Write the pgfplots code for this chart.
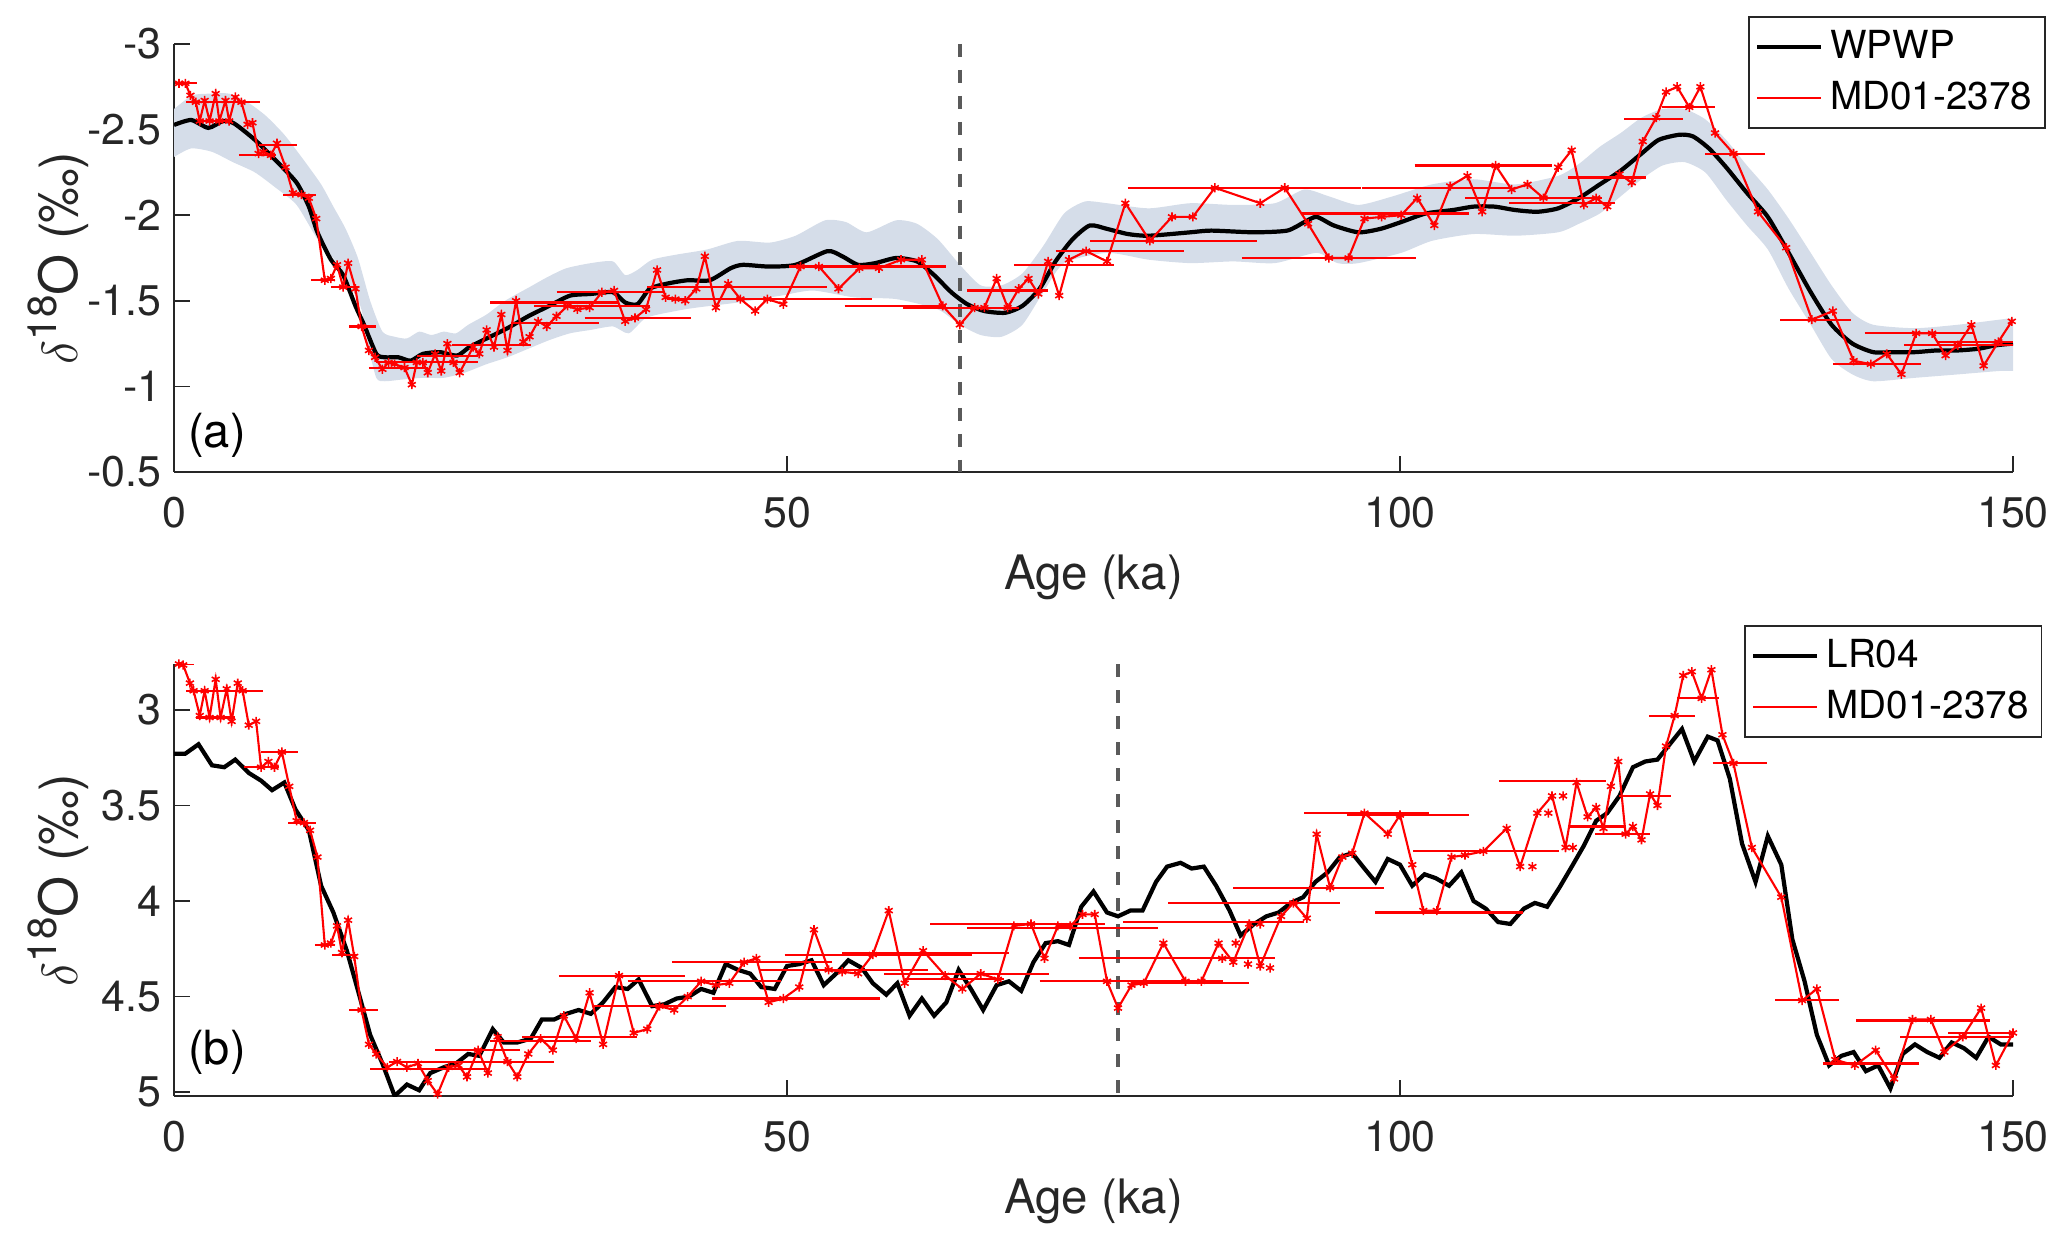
\documentclass[border=0pt]{standalone}
\usepackage{fontspec}
\setmainfont{TeX Gyre Heros}
\usepackage{pgfplots}
\usepackage{pgfplotstable}
\pgfplotsset{compat=1.18}
\usepgfplotslibrary{fillbetween}

\definecolor{bandblue}{RGB}{213,221,233}
\definecolor{axgray}{RGB}{38,38,38}
\definecolor{dashgray}{RGB}{90,90,90}

% WPWP stack (top panel)
\pgfplotstableread{
age d18o
0 -2.527
1.4 -2.556
2.8 -2.51
4.0 -2.55
4.9 -2.536
6.6 -2.44
8.3 -2.32
10.0 -2.19
11.0 -2.05
11.7 -1.90
12.8 -1.74
13.8 -1.65
14.8 -1.47
15.5 -1.36
16.5 -1.19
17.2 -1.17
18.3 -1.17
19.3 -1.15
20.3 -1.19
21.7 -1.20
23.1 -1.18
24.1 -1.23
25.5 -1.28
27.2 -1.34
28.9 -1.41
30.6 -1.47
32.3 -1.53
34.0 -1.54
35.8 -1.55
36.8 -1.49
37.8 -1.48
38.8 -1.57
40.2 -1.60
41.9 -1.62
43.7 -1.62
45.4 -1.69
46.4 -1.71
48.5 -1.70
50.7 -1.71
53.3 -1.79
54.5 -1.76
55.8 -1.71
57.2 -1.72
58.9 -1.75
60.6 -1.73
62.0 -1.65
63.4 -1.55
64.7 -1.48
66.1 -1.44
67.8 -1.43
69.2 -1.47
70.6 -1.57
71.9 -1.73
73.3 -1.86
74.7 -1.94
76.1 -1.92
77.8 -1.89
79.5 -1.88
82.9 -1.90
84.6 -1.91
88.1 -1.90
90.8 -1.91
92.2 -1.96
93.2 -1.99
94.6 -1.94
96.6 -1.90
98.4 -1.92
100.1 -1.96
102.1 -2.01
104.3 -2.03
106.0 -2.05
107.7 -2.05
109.4 -2.03
111.2 -2.02
112.9 -2.04
114.6 -2.10
116.3 -2.18
118.0 -2.26
119.7 -2.36
121.1 -2.44
122.8 -2.47
123.9 -2.46
125.2 -2.39
126.6 -2.28
128.3 -2.13
130.0 -1.99
131.7 -1.78
133.5 -1.55
135.2 -1.36
136.9 -1.25
138.6 -1.20
140.3 -1.20
142.0 -1.20
143.8 -1.21
145.5 -1.21
147.2 -1.22
148.6 -1.24
150 -1.25
}\wpwp

\pgfplotstableread{
age d18o
0 -2.62
1.5 -2.70
3 -2.71
4.5 -2.71
6 -2.66
7.5 -2.58
9 -2.47
10.5 -2.33
12 -2.18
13 -2.05
14 -1.92
15 -1.75
16 -1.50
17 -1.32
18 -1.29
19 -1.28
20 -1.32
21 -1.30
22 -1.32
23 -1.31
24 -1.36
25.5 -1.42
27 -1.50
29 -1.58
30.5 -1.64
32 -1.69
34 -1.72
35.8 -1.73
36.8 -1.65
37.8 -1.68
39 -1.74
41 -1.77
43.5 -1.80
46 -1.85
48.6 -1.84
50.7 -1.88
53.1 -1.97
54.8 -1.96
56.5 -1.90
58.9 -1.97
60.6 -1.95
62.3 -1.86
64.1 -1.71
65.8 -1.59
67.5 -1.59
69.2 -1.66
70.9 -1.82
72.6 -2.01
74.3 -2.08
76.1 -2.07
79.5 -2.04
82.9 -2.07
86.4 -2.06
89.8 -2.07
92.2 -2.15
94.2 -2.11
96.6 -2.06
99.4 -2.11
102.6 -2.18
106.0 -2.21
109.4 -2.18
112.9 -2.23
114.6 -2.30
116.3 -2.40
118.0 -2.48
119.7 -2.57
121.4 -2.62
123.2 -2.62
124.9 -2.56
126.6 -2.44
128.3 -2.29
130.0 -2.15
131.7 -1.98
133.5 -1.78
135.2 -1.59
136.9 -1.43
138.6 -1.36
142.0 -1.34
145.5 -1.36
148.9 -1.39
150 -1.40
}\wpwpup

\pgfplotstableread{
age d18o
0 -2.34
1.4 -2.39
3.1 -2.37
4.8 -2.31
6.6 -2.25
8.3 -2.16
10.0 -2.06
11.7 -1.86
13.4 -1.71
15.2 -1.47
15.8 -1.25
16.5 -1.05
17.2 -1.03
18.6 -1.04
20.3 -1.05
22.0 -1.05
23.7 -1.08
25.5 -1.13
27.2 -1.17
28.9 -1.22
30.6 -1.27
32.3 -1.31
34.0 -1.33
35.8 -1.35
37.1 -1.31
38.5 -1.40
40.9 -1.44
42.6 -1.46
46.0 -1.49
49.5 -1.53
52.1 -1.56
55.5 -1.52
58.9 -1.51
62.3 -1.45
64.1 -1.36
65.8 -1.30
67.5 -1.29
69.2 -1.36
70.9 -1.55
72.6 -1.72
76.1 -1.78
79.5 -1.74
82.9 -1.72
86.4 -1.73
89.8 -1.72
93.2 -1.78
94.9 -1.72
96.6 -1.72
100.1 -1.78
102.6 -1.85
106.0 -1.89
109.4 -1.88
112.9 -1.90
114.6 -1.95
116.3 -2.01
118.0 -2.11
119.7 -2.21
121.4 -2.29
123.2 -2.31
124.9 -2.25
126.6 -2.09
128.3 -1.94
130.0 -1.80
131.7 -1.57
133.5 -1.36
135.2 -1.16
136.9 -1.07
138.6 -1.03
142.0 -1.05
145.5 -1.07
148.9 -1.09
150 -1.09
}\wpwplo

% MD01-2378 on the WPWP age scale (top panel)
\pgfplotstableread{
age d18o
0.41 -2.77
0.93 -2.77
1.34 -2.70
1.78 -2.66
2.1 -2.55
2.5 -2.67
2.9 -2.55
3.4 -2.71
3.7 -2.55
4.2 -2.67
4.5 -2.55
5.0 -2.69
5.5 -2.66
6.0 -2.53
6.4 -2.54
6.9 -2.36
7.3 -2.37
7.9 -2.35
8.4 -2.42
9.1 -2.28
9.7 -2.13
10.4 -2.12
11.0 -2.10
11.6 -1.98
12.3 -1.62
12.8 -1.63
13.3 -1.71
13.8 -1.58
14.2 -1.72
14.8 -1.57
15.3 -1.35
15.9 -1.21
16.4 -1.17
17.0 -1.10
17.5 -1.14
18.0 -1.13
18.8 -1.11
19.4 -1.01
19.8 -1.14
20.3 -1.14
20.7 -1.08
21.3 -1.19
21.8 -1.09
22.3 -1.25
22.8 -1.14
23.3 -1.08
24.4 -1.23
24.9 -1.19
25.5 -1.33
26.1 -1.23
26.7 -1.42
27.2 -1.21
27.9 -1.50
28.5 -1.26
29.0 -1.29
29.7 -1.38
30.4 -1.35
31.2 -1.41
32.1 -1.47
32.9 -1.45
33.9 -1.46
34.9 -1.55
35.9 -1.56
36.8 -1.38
37.6 -1.40
38.5 -1.45
39.4 -1.68
40.1 -1.52
40.9 -1.51
41.7 -1.50
42.6 -1.57
43.3 -1.76
44.2 -1.46
45.2 -1.60
46.2 -1.51
47.4 -1.44
48.4 -1.51
49.7 -1.48
51.1 -1.70
52.6 -1.70
54.2 -1.57
55.9 -1.69
57.5 -1.69
59.3 -1.74
61.0 -1.74
62.7 -1.47
64.1 -1.36
65.3 -1.46
66.1 -1.46
67.1 -1.63
68.0 -1.46
68.9 -1.57
69.7 -1.63
70.5 -1.54
71.3 -1.73
72.2 -1.53
73.0 -1.74
74.4 -1.79
76.1 -1.73
77.6 -2.07
79.6 -1.85
81.4 -1.99
83.1 -1.99
84.9 -2.16
88.6 -2.07
90.6 -2.16
92.5 -1.95
94.2 -1.75
95.8 -1.75
97.1 -1.98
98.5 -1.99
100.1 -2.00
101.4 -2.10
102.8 -1.94
104.1 -2.17
105.5 -2.23
106.7 -2.02
107.8 -2.29
109.1 -2.15
110.4 -2.18
111.7 -2.10
112.9 -2.28
114.0 -2.38
115.0 -2.06
116.0 -2.10
116.9 -2.05
117.9 -2.24
118.9 -2.19
119.8 -2.43
120.9 -2.57
121.7 -2.72
122.6 -2.75
123.6 -2.63
124.5 -2.75
125.7 -2.48
127.2 -2.36
129.2 -2.02
131.5 -1.81
133.6 -1.39
135.3 -1.44
137.0 -1.15
138.4 -1.13
139.7 -1.19
140.9 -1.07
142.1 -1.31
143.4 -1.31
144.5 -1.18
145.5 -1.24
146.6 -1.36
147.6 -1.12
148.8 -1.26
149.9 -1.38
}\mdtop

% LR04 stack (bottom panel)
\pgfplotstableread{
age d18o
0 3.23
0.9 3.23
2.0 3.18
3.1 3.29
4.1 3.30
5.0 3.26
6.1 3.33
7.1 3.37
8.0 3.42
9.0 3.38
9.9 3.52
11.0 3.63
12.0 3.92
13.0 4.06
14.1 4.26
15.1 4.49
16.0 4.70
17.0 4.85
18.0 5.02
19.0 4.96
20.0 4.99
20.9 4.90
22.0 4.87
23.0 4.85
24.0 4.80
24.9 4.81
26.0 4.67
26.9 4.74
28.0 4.74
29.1 4.72
30.0 4.62
31.0 4.62
32.0 4.59
33.0 4.57
34.0 4.59
35.0 4.53
36.0 4.45
37.0 4.46
37.9 4.41
39.0 4.55
40.0 4.54
41.0 4.51
42.0 4.50
43.0 4.46
44.0 4.48
45.0 4.33
46.0 4.36
47.0 4.38
47.9 4.45
49.0 4.46
50.0 4.34
51.0 4.33
52.0 4.31
53.0 4.44
54.0 4.38
55.0 4.31
56.1 4.35
57.0 4.43
58.1 4.49
59.0 4.43
60.0 4.60
61.0 4.51
62.0 4.60
63.0 4.53
64.0 4.36
65.0 4.46
66.0 4.57
67.1 4.44
68.1 4.42
69.1 4.47
70.1 4.32
71.1 4.22
72.1 4.21
73.0 4.23
74.0 4.03
75.0 3.95
76.1 4.06
77.0 4.08
78.0 4.05
79.0 4.05
80.1 3.90
81.0 3.82
82.1 3.80
83.0 3.83
84.0 3.82
85.0 3.92
86.1 4.05
87.0 4.18
88.1 4.12
89.1 4.08
90.1 4.06
91.1 4.01
92.1 3.98
93.1 3.90
94.1 3.85
95.1 3.77
96.1 3.75
97.1 3.83
98.0 3.90
99.0 3.78
100.0 3.81
101.0 3.92
102.0 3.86
102.9 3.88
104.0 3.92
105.0 3.85
106.0 4.00
107.0 4.04
108.0 4.11
109.0 4.12
110.1 4.04
111.0 4.01
112.0 4.03
113.0 3.93
114.1 3.81
115.0 3.71
116.0 3.58
116.9 3.54
117.9 3.45
119.0 3.30
120.0 3.27
121.0 3.26
122.0 3.18
123.0 3.10
124.0 3.27
125.1 3.14
125.9 3.16
126.9 3.36
127.9 3.70
129.0 3.90
130.0 3.66
131.1 3.81
132.0 4.20
133.0 4.42
134.0 4.70
135.0 4.86
136.0 4.81
137.0 4.79
138.0 4.89
139.0 4.86
140.0 4.98
141.0 4.80
142.0 4.75
143.0 4.79
144.0 4.82
145.0 4.74
146.0 4.77
147.0 4.82
148.0 4.71
149.0 4.75
150.0 4.75
}\lrfour

% MD01-2378 on the LR04 age scale (bottom panel)
\pgfplotstableread{
age d18o
0.4 2.76
0.75 2.765
1.3 2.86
1.6 2.90
2.1 3.03
2.5 2.90
2.9 3.04
3.4 2.84
3.8 3.04
4.3 2.89
4.7 3.06
5.2 2.86
5.6 2.90
6.1 3.08
6.7 3.06
7.1 3.30
7.7 3.27
8.2 3.30
8.8 3.22
9.4 3.40
10.0 3.58
10.6 3.59
11.1 3.63
11.7 3.77
12.3 4.23
12.8 4.22
13.3 4.13
13.7 4.27
14.2 4.10
14.7 4.29
15.3 4.57
15.9 4.75
16.5 4.80
17.4 4.87
18.2 4.84
19.0 4.87
19.9 4.85
20.7 4.94
21.5 5.01
22.4 4.87
23.2 4.86
23.9 4.92
24.8 4.78
25.6 4.90
26.4 4.71
27.2 4.84
28.0 4.92
28.9 4.80
29.9 4.72
30.9 4.78
31.8 4.60
32.8 4.72
33.9 4.48
35.0 4.75
36.3 4.39
37.5 4.69
38.6 4.67
39.6 4.55
40.8 4.57
41.9 4.50
43.0 4.42
44.2 4.44
45.3 4.43
46.5 4.32
47.5 4.30
48.5 4.53
49.7 4.51
51.0 4.45
52.2 4.15
53.4 4.36
54.5 4.37
55.8 4.38
57.0 4.28
58.3 4.05
59.6 4.43
61.1 4.26
62.9 4.39
64.3 4.46
65.8 4.38
67.2 4.41
68.5 4.13
69.9 4.12
71.0 4.30
72.1 4.13
73.1 4.13
74.1 4.07
75.1 4.07
76.1 4.42
77.0 4.56
78.1 4.44
79.1 4.43
80.7 4.22
82.5 4.42
83.8 4.42
85.2 4.22
86.4 4.32
87.7 4.12
88.6 4.34
90.3 4.08
91.3 4.01
92.4 4.09
93.2 3.65
94.3 3.93
95.3 3.77
96.1 3.75
97.1 3.54
99.0 3.65
100.0 3.55
101.0 3.81
101.9 4.05
103.0 4.05
104.2 3.77
105.3 3.76
106.8 3.74
108.7 3.62
109.8 3.82
111.2 3.54
112.4 3.45
113.5 3.72
114.4 3.38
115.3 3.56
116.0 3.51
116.6 3.62
117.2 3.40
117.8 3.27
118.4 3.65
119.0 3.61
119.7 3.68
120.4 3.44
121.0 3.50
121.7 3.19
122.4 3.03
123.1 2.82
123.8 2.80
124.6 2.94
125.4 2.79
126.3 3.13
127.2 3.28
128.7 3.72
131.1 3.98
132.8 4.52
134.0 4.46
135.5 4.83
137.1 4.86
138.8 4.78
140.3 4.93
141.8 4.62
143.3 4.62
144.4 4.79
145.9 4.71
147.4 4.56
148.6 4.86
150.0 4.69
}\mdbot

\pgfplotsset{
  panel/.style={
    scale only axis,
    width=183.9mm,
    xmin=0, xmax=150,
    xtick={0,50,100,150},
    y dir=reverse,
    axis x line*=bottom,
    axis y line*=left,
    tick align=inside,
    major tick length=1.6mm,
    axis line style={axgray, line width=0.5pt},
    every tick/.style={axgray, line width=0.5pt},
    tick label style={font=\fontsize{12.2}{14}\selectfont, text=axgray},
    xticklabel style={yshift=-1.3mm},
    /pgf/number format/assume math mode=true,
    yticklabel style={/pgf/number format/fixed},
    xlabel={Age (ka)},
    ylabel={{\fontsize{15}{18}\selectfont$\delta$\raisebox{0.75ex}{\fontsize{11.5}{13}\selectfont 18}O (‰)}},
    label style={font=\fontsize{13.5}{16}\selectfont, text=axgray},
    xlabel style={at={(axis description cs:0.5,0)}, anchor=center, yshift=-10.5mm},
    ylabel style={at={(axis description cs:-0.063,0.5)}, anchor=center},
    legend cell align=left,
    legend image code/.code={\draw[##1] (0mm,0mm) -- (6.4mm,0mm);},
    legend style={anchor=north east, draw=axgray, line width=0.5pt, fill=white,
      font=\fontsize{11}{13}\selectfont, inner xsep=0.6mm, inner ysep=0.6mm,
      row sep=0.4mm},
    unbounded coords=jump,
  },
  mdline/.style={red, line width=0.6pt, mark=asterisk, mark size=1.3pt,
    mark options={solid, line width=0.45pt}},
  agebar/.style={red, line width=0.6pt, forget plot},
  ageline/.style={dashgray, line width=1.1pt, dash pattern=on 1.3mm off 1.3mm, forget plot},
}

\begin{document}
\begin{tikzpicture}

% ---------- (a) WPWP vs MD01-2378 ----------
\begin{axis}[panel,
  at={(0,62.4mm)},
  height=42.8mm,
  ymin=-3, ymax=-0.5,
  ytick={-3,-2.5,-2,-1.5,-1,-0.5},
  legend style={at={(axis description cs:1.018,1.065)}},
]
\addplot[name path=up, draw=none, smooth, tension=0.4, forget plot] table[x=age, y=d18o] {\wpwpup};
\addplot[name path=lo, draw=none, smooth, tension=0.4, forget plot] table[x=age, y=d18o] {\wpwplo};
\addplot[bandblue, forget plot] fill between[of=up and lo];
\addplot[ageline] coordinates {(64.1,-3) (64.1,-0.5)};
\addplot[black, line width=1.2pt, smooth, tension=0.4, forget plot] table[x=age, y=d18o] {\wpwp};
% horizontal age-uncertainty bars
\addplot[agebar] coordinates {
(0.1,-2.77) (1.85,-2.77) (nan,nan)
(1.0,-2.66) (7.0,-2.66) (nan,nan)
(2.1,-2.55) (4.7,-2.55) (nan,nan)
(6.9,-2.41) (10.0,-2.41) (nan,nan)
(5.3,-2.35) (8.3,-2.35) (nan,nan)
(8.9,-2.12) (11.6,-2.12) (nan,nan)
(11.2,-1.62) (13.1,-1.62) (nan,nan)
(12.8,-1.58) (15.1,-1.58) (nan,nan)
(14.3,-1.35) (16.5,-1.35) (nan,nan)
(16.5,-1.14) (24.8,-1.14) (nan,nan)
(15.9,-1.11) (20.7,-1.11) (nan,nan)
(19.8,-1.18) (24.8,-1.18) (nan,nan)
(22.7,-1.24) (29.1,-1.24) (nan,nan)
(27.5,-1.37) (34.7,-1.37) (nan,nan)
(25.8,-1.49) (36.3,-1.49) (nan,nan)
(29.4,-1.47) (38.8,-1.47) (nan,nan)
(33.5,-1.40) (42.2,-1.40) (nan,nan)
(31.2,-1.55) (39.9,-1.55) (nan,nan)
(38.6,-1.58) (53.3,-1.58) (nan,nan)
(40.2,-1.51) (56.9,-1.51) (nan,nan)
(50.2,-1.70) (63.0,-1.70) (nan,nan)
(54.7,-1.47) (63.0,-1.47) (nan,nan)
(59.5,-1.46) (68.9,-1.46) (nan,nan)
(64.7,-1.56) (71.3,-1.56) (nan,nan)
(68.5,-1.71) (76.7,-1.71) (nan,nan)
(71.9,-1.79) (82.4,-1.79) (nan,nan)
(74.7,-1.85) (88.3,-1.85) (nan,nan)
(77.8,-2.16) (92.9,-2.16) (nan,nan)
(82.1,-2.16) (96.8,-2.16) (nan,nan)
(92.0,-2.01) (105.6,-2.01) (nan,nan)
(87.1,-1.75) (101.3,-1.75) (nan,nan)
(96.9,-2.16) (109.1,-2.16) (nan,nan)
(101.2,-2.29) (112.4,-2.29) (nan,nan)
(105.3,-2.10) (116.5,-2.10) (nan,nan)
(108.9,-2.07) (117.5,-2.07) (nan,nan)
(113.7,-2.22) (120.1,-2.22) (nan,nan)
(118.3,-2.56) (123.1,-2.56) (nan,nan)
(121.4,-2.63) (125.7,-2.63) (nan,nan)
(124.9,-2.36) (129.8,-2.36) (nan,nan)
(131.0,-1.39) (136.8,-1.39) (nan,nan)
(135.3,-1.13) (142.5,-1.13) (nan,nan)
(137.9,-1.31) (146.7,-1.31) (nan,nan)
(141.1,-1.24) (150,-1.24) (nan,nan)
(143.9,-1.26) (150,-1.26)
};
\addplot[mdline, forget plot] table[x=age, y=d18o] {\mdtop};
\node[anchor=west, inner sep=0pt, font=\fontsize{13.4}{16}\selectfont]
  at (axis cs:1.1,-0.716) {(a)};
\addlegendimage{black, line width=1.2pt}
\addlegendentry{WPWP}
\addlegendimage{red, line width=0.6pt}
\addlegendentry{MD01-2378}
\end{axis}

% ---------- (b) LR04 vs MD01-2378 ----------
\begin{axis}[panel,
  at={(0,0)},
  height=43.2mm,
  ymin=2.76, ymax=5.02,
  ytick={3,3.5,4,4.5,5},
  legend style={at={(axis description cs:1.016,1.09)}},
]
\addplot[ageline] coordinates {(77.0,2.76) (77.0,5.02)};
\addplot[black, line width=1.2pt, forget plot] table[x=age, y=d18o] {\lrfour};
\addplot[agebar] coordinates {
(0.1,2.76) (1.6,2.76) (nan,nan)
(1.0,2.90) (7.3,2.90) (nan,nan)
(1.8,3.04) (5.0,3.04) (nan,nan)
(7.1,3.22) (10.1,3.22) (nan,nan)
(5.7,3.30) (8.6,3.30) (nan,nan)
(9.3,3.59) (11.6,3.59) (nan,nan)
(11.5,4.23) (13.1,4.23) (nan,nan)
(12.9,4.28) (14.9,4.28) (nan,nan)
(14.3,4.57) (16.6,4.57) (nan,nan)
(17.5,4.84) (31.0,4.84) (nan,nan)
(16.0,4.88) (25.6,4.88) (nan,nan)
(21.3,4.78) (28.2,4.78) (nan,nan)
(25.8,4.73) (34.0,4.73) (nan,nan)
(28.4,4.71) (37.8,4.71) (nan,nan)
(31.4,4.39) (41.7,4.39) (nan,nan)
(37.0,4.42) (49.5,4.42) (nan,nan)
(34.1,4.55) (45.0,4.55) (nan,nan)
(40.6,4.32) (53.7,4.32) (nan,nan)
(43.9,4.51) (57.6,4.51) (nan,nan)
(47.7,4.36) (61.5,4.36) (nan,nan)
(49.8,4.28) (65.1,4.28) (nan,nan)
(54.5,4.27) (68.1,4.27) (nan,nan)
(57.9,4.38) (71.4,4.38) (nan,nan)
(59.6,4.41) (67.7,4.41) (nan,nan)
(70.6,4.42) (85.6,4.42) (nan,nan)
(78.1,4.43) (87.7,4.43) (nan,nan)
(61.7,4.12) (75.9,4.12) (nan,nan)
(64.7,4.14) (80.3,4.14) (nan,nan)
(73.8,4.30) (89.8,4.30) (nan,nan)
(77.4,4.11) (92.2,4.11) (nan,nan)
(81.1,4.01) (95.1,4.01) (nan,nan)
(86.4,3.93) (98.7,3.93) (nan,nan)
(92.2,3.54) (102.4,3.54) (nan,nan)
(95.7,3.55) (105.6,3.55) (nan,nan)
(101.1,3.74) (113.0,3.74) (nan,nan)
(98.0,4.06) (110.0,4.06) (nan,nan)
(108.1,3.37) (116.8,3.37) (nan,nan)
(113.8,3.61) (118.4,3.61) (nan,nan)
(115.9,3.65) (120.4,3.65) (nan,nan)
(117.9,3.45) (122.1,3.45) (nan,nan)
(120.3,3.03) (124.1,3.03) (nan,nan)
(122.6,2.94) (126.0,2.94) (nan,nan)
(125.5,3.28) (129.9,3.28) (nan,nan)
(130.6,4.52) (135.8,4.52) (nan,nan)
(134.5,4.85) (142.3,4.85) (nan,nan)
(137.2,4.625) (148.1,4.625) (nan,nan)
(140.8,4.71) (150,4.71) (nan,nan)
(144.7,4.69) (150,4.69)
};
\addplot[mdline, forget plot] table[x=age, y=d18o] {\mdbot};
\addplot[red, only marks, mark=asterisk, mark size=1.3pt,
  mark options={line width=0.45pt}, forget plot] coordinates {
(85.5,4.30) (86.6,4.22) (87.6,4.33) (88.6,4.12) (89.4,4.35)
(110.8,3.82) (112.1,3.54) (113.3,3.45) (114.1,3.72)
};
\node[anchor=west, inner sep=0pt, font=\fontsize{13.4}{16}\selectfont]
  at (axis cs:1.1,4.79) {(b)};
\addlegendimage{black, line width=1.2pt}
\addlegendentry{LR04}
\addlegendimage{red, line width=0.6pt}
\addlegendentry{MD01-2378}
\end{axis}

\pgfresetboundingbox
\path (-17.4mm,-14.8mm) rectangle (189.3mm,109.6mm);
\end{tikzpicture}
\end{document}
